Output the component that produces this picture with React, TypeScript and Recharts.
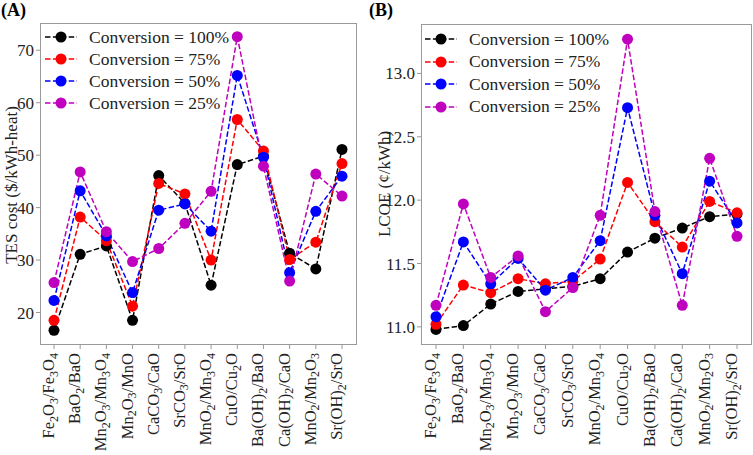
import { LineChart, Line, XAxis, YAxis, Legend } from "recharts"

const compounds = [
  "Fe2O3/Fe3O4", "BaO2/BaO", "Mn2O3/Mn3O4", "Mn2O3/MnO", "CaCO3/CaO", "SrCO3/SrO",
  "MnO2/Mn3O4", "CuO/Cu2O", "Ba(OH)2/BaO", "Ca(OH)2/CaO", "MnO2/Mn2O3", "Sr(OH)2/SrO",
]

// panel A: TES cost ($/kWh-heat)
const tes100 = [16.6, 31.1, 32.7, 18.5, 46.1, 40.8, 25.2, 48.2, 49.8, 31.3, 28.3, 51.1]
const tes75 = [18.5, 38.2, 33.7, 21.2, 44.6, 42.6, 30.0, 56.8, 50.8, 30.1, 33.4, 48.4]
const tes50 = [22.3, 43.2, 34.6, 23.8, 39.5, 40.7, 35.5, 65.2, 49.6, 27.6, 39.3, 46.0]
const tes25 = [25.7, 46.8, 35.4, 29.7, 32.2, 37.0, 43.1, 72.6, 47.9, 26.0, 46.4, 42.2]

// panel B: LCOE (¢/kWh)
const lcoe100 = [10.98, 11.01, 11.18, 11.28, 11.3, 11.32, 11.38, 11.59, 11.7, 11.78, 11.87, 11.89]
const lcoe75 = [11.02, 11.33, 11.27, 11.38, 11.34, 11.36, 11.535, 12.14, 11.83, 11.63, 11.99, 11.9]
const lcoe50 = [11.08, 11.67, 11.34, 11.54, 11.29, 11.39, 11.68, 12.73, 11.88, 11.42, 12.15, 11.82]
const lcoe25 = [11.17, 11.97, 11.39, 11.56, 11.12, 11.31, 11.88, 13.27, 11.91, 11.17, 12.33, 11.715]

const tesTicks = [20, 30, 40, 50, 60, 70]
const lcoeTicks = [11.0, 11.5, 12.0, 12.5, 13.0]

const seriesNames = ["Conversion = 100%", "Conversion = 75%", "Conversion = 50%", "Conversion = 25%"]
const colors = ["#000000", "#ff0000", "#0000ff", "#bf00bf"]

const tesData = compounds.map((name, i) => ({ name, c100: tes100[i], c75: tes75[i], c50: tes50[i], c25: tes25[i] }))
const lcoeData = compounds.map((name, i) => ({ name, c100: lcoe100[i], c75: lcoe75[i], c50: lcoe50[i], c25: lcoe25[i] }))
const keys = ["c100", "c75", "c50", "c25"]

const font = "'Liberation Serif', 'Times New Roman', serif"
const frame = "#999999"
const dash = "5.5 2.4"

function FormulaTick({ x, y, payload }: any) {
  const parts = String(payload.value).split(/(\d+)/).filter((p) => p !== "")
  const y0 = y + 2
  let sub = false
  return (
    <text x={x} y={y0} transform={`rotate(-90, ${x}, ${y0})`} textAnchor="end" dy="0.33em"
      fontFamily={font} fontSize={16.5} fill="#222">
      {parts.map((p, i) => {
        const isNum = /^\d+$/.test(p)
        let dy = 0
        if (isNum && !sub) { dy = 3.5; sub = true }
        else if (!isNum && sub) { dy = -3.5; sub = false }
        return (
          <tspan key={i} dy={dy} fontSize={isNum ? 12 : 16.5}>{p}</tspan>
        )
      })}
    </text>
  )
}

// legend drawn from our own arrays so the order stays 100/75/50/25
function renderLegend(rowH: number) {
  return () => (
    <div style={{ display: "flex", flexDirection: "column" }}>
      {seriesNames.map((n, i) => (
        <div key={n} style={{ display: "flex", alignItems: "center", height: rowH }}>
          <svg width={34} height={14}>
            <line x1={1} x2={33} y1={7} y2={7} stroke={colors[i]} strokeWidth={1.5} strokeDasharray={dash} />
            <circle cx={17} cy={7} r={5.5} fill={colors[i]} />
          </svg>
          <span style={{ marginLeft: 11, fontFamily: font, fontSize: 17.5, color: "#222", lineHeight: "17px" }}>{n}</span>
        </div>
      ))}
    </div>
  )
}

function yLabel(text: string, cx: number, cy: number) {
  return () => (
    <text x={cx} y={cy} transform={`rotate(-90, ${cx}, ${cy})`} textAnchor="middle" dominantBaseline="central"
      fontFamily={font} fontSize={17} fill="#222">{text}</text>
  )
}

function Panel({ data, domain, ticks, fmt, padding, margin, width, label, legendPos, rowH }: any) {
  const plotW = width - margin.left - 30 - margin.right
  const plotH = 455 - margin.top - 110
  return (
    <div style={{ position: "relative", width, height: 455 }}>
      <LineChart width={width} height={455} data={data} margin={margin}>
        <XAxis dataKey="name" scale="point" padding={padding} interval={0} height={110}
          axisLine={false} stroke={frame} tickSize={4} tick={<FormulaTick />} />
        <YAxis domain={domain} ticks={ticks} allowDataOverflow type="number" width={30} axisLine={false}
          stroke={frame} tickSize={4} tickMargin={2} tickFormatter={fmt}
          tick={{ fill: "#222", fontSize: 17, fontFamily: font }} label={{ content: label }} />
        <Legend layout="vertical" align="center" verticalAlign="middle" content={renderLegend(rowH)}
          wrapperStyle={{ left: legendPos[0], top: legendPos[1], width: 220, height: 92 }} />
        {keys.map((k, i) => (
          <Line key={k} dataKey={k} name={seriesNames[i]} stroke={colors[i]} strokeWidth={1.5}
            strokeDasharray={dash} isAnimationActive={false}
            dot={{ r: 5.5, fill: colors[i], stroke: colors[i], strokeWidth: 0, strokeDasharray: "" }}
            activeDot={false} />
        ))}
      </LineChart>
      <div style={{
        position: "absolute", left: margin.left + 30, top: margin.top, width: plotW, height: plotH,
        border: `1px solid ${frame}`, boxSizing: "border-box", pointerEvents: "none",
      }} />
    </div>
  )
}

export default function App() {
  return (
    <div style={{ position: "absolute", left: 0, top: 0, width: 753, height: 455, background: "#fff", fontFamily: font }}>
      <div style={{ position: "absolute", left: 0, top: 0 }}>
        <Panel data={tesData} domain={[13.8, 75.2]} ticks={tesTicks} fmt={(v: number) => String(v)}
          padding={{ left: 14, right: 15 }} width={366} margin={{ top: 23, right: 9, bottom: 0, left: 10 }}
          label={yLabel("TES cost ($/kWh-heat)", 11, 185)} legendPos={[44, 26]} rowH={22} />
      </div>
      <div style={{ position: "absolute", left: 366, top: 0 }}>
        <Panel data={lcoeData} domain={[10.857, 13.39]} ticks={lcoeTicks} fmt={(v: number) => v.toFixed(1)}
          padding={{ left: 15, right: 15 }} width={387} margin={{ top: 24, right: 1, bottom: 0, left: 25 }}
          label={yLabel("LCOE (¢/kWh)", 18, 184)} legendPos={[58, 28]} rowH={22.5} />
      </div>
      <div style={{ position: "absolute", left: 1, top: 0, fontSize: 18, fontWeight: "bold" }}>(A)</div>
      <div style={{ position: "absolute", left: 369, top: 0, fontSize: 18, fontWeight: "bold" }}>(B)</div>
    </div>
  )
}
